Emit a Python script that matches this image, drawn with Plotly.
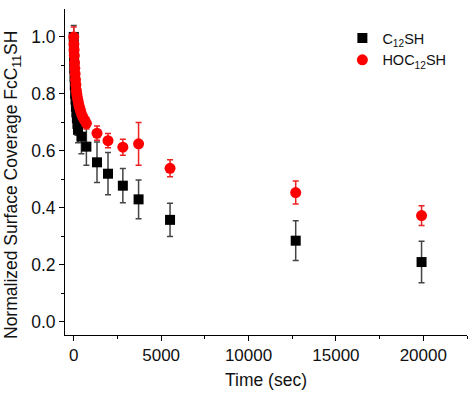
import plotly.graph_objects as go

# ---- data ----
black_t = [0, 10, 20, 30, 45, 60, 80, 100, 125, 150, 180, 210, 245, 440, 724,
           1330, 1960, 2810, 3710, 5510, 12700, 19900]
black_y = [1.0, 0.96, 0.92, 0.89, 0.86, 0.83, 0.80, 0.78, 0.755, 0.735, 0.715,
           0.695, 0.674, 0.65, 0.615, 0.56, 0.52, 0.478, 0.43, 0.358, 0.285, 0.21]
black_err = [0.04, 0.03, 0.03, 0.03, 0.03, 0.03, 0.03, 0.03, 0.035, 0.035, 0.04,
             0.04, 0.045, 0.06, 0.065, 0.071, 0.074, 0.06, 0.068, 0.058, 0.07, 0.073]

red_t = [0, 10, 20, 30, 45, 60, 80, 100, 125, 150, 180, 215, 250, 290, 335, 385,
         440, 520, 620, 724, 1330, 1960, 2810, 3710, 5510, 12700, 19900]
red_y = [1.0, 0.975, 0.955, 0.935, 0.91, 0.89, 0.87, 0.85, 0.832, 0.812, 0.798,
         0.785, 0.775, 0.762, 0.752, 0.742, 0.73, 0.718, 0.708, 0.697, 0.662,
         0.636, 0.613, 0.625, 0.539, 0.454, 0.373]
red_err = [0.035, 0.02, 0.02, 0.02, 0.02, 0.02, 0.02, 0.02, 0.02, 0.02, 0.02,
           0.02, 0.02, 0.02, 0.02, 0.02, 0.02, 0.02, 0.02, 0.02, 0.025, 0.025,
           0.028, 0.075, 0.03, 0.04, 0.035]

series_names = ["C<sub>12</sub>SH", "HOC<sub>12</sub>SH"]

x_ticks = [0, 5000, 10000, 15000, 20000]
y_ticks = [0.0, 0.2, 0.4, 0.6, 0.8, 1.0]

FONT = "Liberation Sans, Arial, sans-serif"
TXT = "#111111"

fig = go.Figure()
fig.add_trace(go.Scatter(
    x=black_t, y=black_y, mode="markers", name=series_names[0],
    marker=dict(symbol="square", size=10, color="#000000"),
    error_y=dict(type="data", array=black_err, visible=True,
                 color="#444444", thickness=1.5, width=3),
))
fig.add_trace(go.Scatter(
    x=red_t, y=red_y, mode="markers", name=series_names[1],
    marker=dict(symbol="circle", size=11, color="#ff0000"),
    error_y=dict(type="data", array=red_err, visible=True,
                 color="#ee2222", thickness=1.5, width=3),
))

fig.update_layout(
    width=472, height=394,
    margin=dict(l=65, r=5, t=9, b=59),
    paper_bgcolor="white", plot_bgcolor="white",
    font=dict(family=FONT, size=17, color=TXT),
    showlegend=True,
    legend=dict(x=0.69, y=0.96, xanchor="left", yanchor="top",
                bgcolor="rgba(0,0,0,0)", font=dict(size=14.5, family=FONT, color=TXT),
                itemwidth=30),
    xaxis=dict(
        range=[-500, 22500], showgrid=False, zeroline=False,
        showline=True, linecolor="#000000", linewidth=1,
        ticks="outside", ticklen=5, tickcolor="#000000",
        tickvals=x_ticks, ticktext=[str(v) for v in x_ticks],
        tickfont=dict(size=17, color=TXT),
        minor=dict(ticks="outside", ticklen=3, dtick=2500, tick0=0,
                   tickcolor="#000000"),
        title=dict(text="Time (sec)", font=dict(size=17.5, color=TXT), standoff=9),
    ),
    yaxis=dict(
        range=[-0.046, 1.098], showgrid=False, zeroline=False,
        showline=True, linecolor="#000000", linewidth=1,
        ticks="outside", ticklen=5, tickcolor="#000000",
        tickvals=y_ticks, ticktext=[f"{v:.1f}" for v in y_ticks],
        tickfont=dict(size=17.5, color=TXT),
        minor=dict(ticks="outside", ticklen=3, dtick=0.1, tick0=0,
                   tickcolor="#000000"),
    ),
    annotations=[dict(
        text="Normalized Surface Coverage FcC<sub>11</sub>SH",
        xref="paper", yref="paper",
        x=(12 - 65) / 402, y=(335 - 185) / 326,
        xanchor="center", yanchor="middle", textangle=-90,
        showarrow=False, font=dict(size=17.5, color=TXT, family=FONT),
    )],
)

fig.write_html("out.html")
